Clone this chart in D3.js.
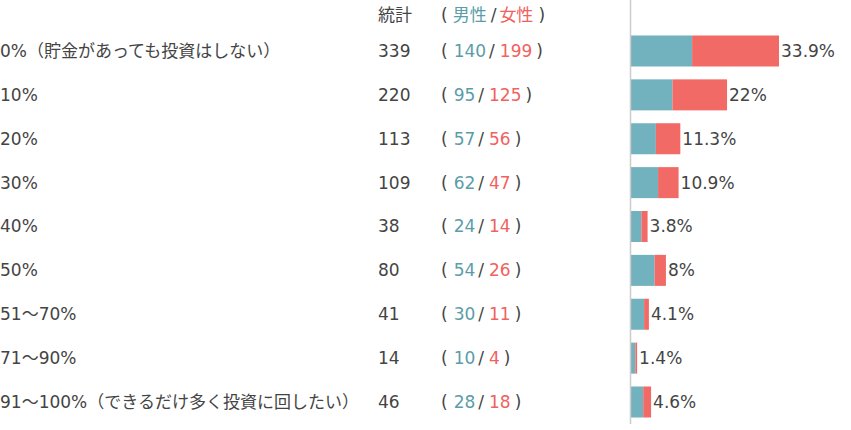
<!DOCTYPE html>
<html>
<head>
<meta charset="utf-8">
<script src="https://cdn.jsdelivr.net/npm/d3@7"></script>
<style>
  html, body { margin: 0; padding: 0; background: #fff; }
  text { font-family: "DejaVu Sans", "Noto Sans CJK JP", sans-serif; }
</style>
</head>
<body>
<script>
const categories = [
  "0%（貯金があっても投資はしない）",
  "10%", "20%", "30%", "40%", "50%",
  "51～70%", "71～90%",
  "91～100%（できるだけ多く投資に回したい）"
];
const totals = [339, 220, 113, 109, 38, 80, 41, 14, 46];
const male   = [140, 95, 57, 62, 24, 54, 30, 10, 28];
const female = [199, 125, 56, 47, 14, 26, 11, 4, 18];

const width = 851, height = 430;
const blue = "#72b1be", red = "#f26a66";
const blueText = "#5c9ca9", redText = "#f0625e";
const textColor = "#444";
const fs = 17;
const grand = d3.sum(totals);

const rows = categories.map((c, i) => ({
  cat: c, total: totals[i], male: male[i], female: female[i]
}));

const svg = d3.select("body").append("svg")
  .attr("width", width)
  .attr("height", height);

const y = d3.scalePoint().domain(categories).range([51, 402]);
const x = d3.scaleLinear().domain([0, 33.9]).range([631, 779]);
const pct = v => v / grand * 100;
const barH = 31;

// header
svg.append("text")
  .attr("x", 378).attr("y", 15)
  .attr("dy", "0.35em")
  .attr("font-size", fs)
  .attr("fill", textColor)
  .text("統計");

const hdr = svg.append("text")
  .attr("x", 441).attr("y", 15)
  .attr("dy", "0.35em")
  .attr("font-size", fs)
  .attr("fill", textColor);
hdr.append("tspan").text("(");
hdr.append("tspan").attr("dx", 5).attr("fill", blueText).text("男性");
hdr.append("tspan").attr("dx", 4).text("/");
hdr.append("tspan").attr("dx", 3).attr("fill", redText).text("女性");
hdr.append("tspan").attr("dx", 5).text(")");

const row = svg.selectAll("g.row")
  .data(rows)
  .join("g")
  .attr("class", "row");

row.append("text")
  .attr("x", 0)
  .attr("y", d => y(d.cat))
  .attr("dy", "0.35em")
  .attr("font-size", fs)
  .attr("fill", textColor)
  .text(d => d.cat);

row.append("text")
  .attr("x", 378)
  .attr("y", d => y(d.cat))
  .attr("dy", "0.35em")
  .attr("font-size", fs)
  .attr("fill", textColor)
  .text(d => d.total);

const grp = row.append("text")
  .attr("x", 441)
  .attr("y", d => y(d.cat))
  .attr("dy", "0.35em")
  .attr("font-size", fs)
  .attr("fill", textColor);
grp.append("tspan").text("(");
grp.append("tspan").attr("dx", 6).attr("fill", blueText).text(d => d.male);
grp.append("tspan").attr("dx", 3).text("/");
grp.append("tspan").attr("dx", 5).attr("fill", redText).text(d => d.female);
grp.append("tspan").attr("dx", 4).text(")");

// stacked bars
row.append("rect")
  .attr("x", x(0))
  .attr("y", d => y(d.cat) - barH / 2)
  .attr("width", d => x(pct(d.male)) - x(0))
  .attr("height", barH)
  .attr("fill", blue);

row.append("rect")
  .attr("x", d => x(pct(d.male)))
  .attr("y", d => y(d.cat) - barH / 2)
  .attr("width", d => x(pct(d.total)) - x(pct(d.male)))
  .attr("height", barH)
  .attr("fill", red);

row.append("text")
  .attr("x", d => x(pct(d.total)) + 2)
  .attr("y", d => y(d.cat))
  .attr("dy", "0.35em")
  .attr("font-size", fs)
  .attr("fill", textColor)
  .text(d => (+pct(d.total).toFixed(1)) + "%");

// axis line
svg.append("line")
  .attr("x1", 630.5).attr("x2", 630.5)
  .attr("y1", 0).attr("y2", 424)
  .attr("stroke", "#ccc")
  .attr("stroke-width", 1.5);
</script>
</body>
</html>
